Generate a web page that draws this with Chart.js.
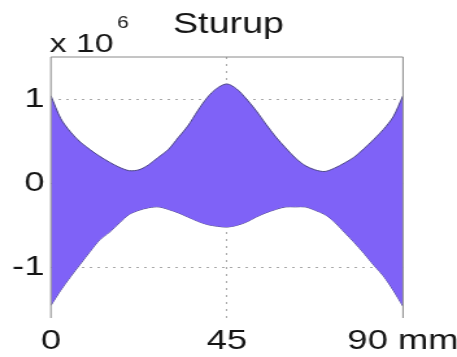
<!DOCTYPE html>
<html>
<head>
<meta charset="utf-8">
<script src="https://cdn.jsdelivr.net/npm/chart.js@4.4.1/dist/chart.umd.min.js"></script>
<style>
  html, body { margin: 0; padding: 0; background: #fff; overflow: hidden; }
  /* the figure is drawn narrow and widened horizontally, like the stretched plot export */
  #wrap { width: 352px; height: 357px; transform: scaleX(1.2983); transform-origin: 0 0; }
  canvas { display: block; }
</style>
</head>
<body>
<div id="wrap"><canvas id="c" width="352" height="357"></canvas></div>
<script>
// position along the span (mm)
const positionsMm = [0, 2.5, 5, 7.5, 10, 12.5, 15, 17.5, 20, 22.5, 25, 27.5, 30, 32.5, 35, 37.5, 40, 42.5,
  45, 47.5, 50, 52.5, 55, 57.5, 60, 62.5, 65, 67.5, 70, 72.5, 75, 77.5, 80, 82.5, 85, 87.5, 90];

// upper and lower envelope of the stirrup force (x 10^6)
const upperEnvelope = [1.04, 0.77, 0.61, 0.49, 0.40, 0.32, 0.25, 0.19, 0.15, 0.16, 0.22, 0.31, 0.40, 0.54, 0.68, 0.86, 1.02, 1.13,
  1.18, 1.12, 1.00, 0.86, 0.70, 0.55, 0.42, 0.30, 0.21, 0.16, 0.14, 0.18, 0.24, 0.31, 0.41, 0.52, 0.64, 0.79, 1.04];
const lowerEnvelope = [-1.45, -1.27, -1.11, -0.96, -0.81, -0.67, -0.58, -0.47, -0.37, -0.32, -0.29, -0.28, -0.31, -0.35, -0.40, -0.45, -0.49, -0.51,
  -0.52, -0.50, -0.46, -0.40, -0.35, -0.31, -0.28, -0.28, -0.28, -0.32, -0.37, -0.46, -0.58, -0.70, -0.83, -0.97, -1.10, -1.27, -1.46];

const xTickValues = [0, 45, 90];
const xTickLabels = ['0', '45', '90 mm'];
const yTickValues = [-1, 0, 1];
const titleText = 'Sturup';
const scaleFactorBase = 'x 10';
const scaleFactorExponent = '6';

const FONT = '"Liberation Sans", Arial, Helvetica, sans-serif';
const TEXT = '#151515';
const FILL = '#7f62f7';
const EDGE = '#4b4585';
const GRID = '#a9a9a9';

const toPoints = vals => positionsMm.map((x, i) => ({ x: x, y: vals[i] }));

// axes box (left, right, top) and the exponent label above the y axis
const framePlugin = {
  id: 'frame',
  afterDatasetsDraw(chart) {
    const { ctx, chartArea: a } = chart;
    ctx.save();
    ctx.lineWidth = 1;
    ctx.strokeStyle = '#8a8a8a';
    ctx.beginPath();
    ctx.moveTo(a.left, a.bottom);
    ctx.lineTo(a.left, a.top);
    ctx.lineTo(a.right, a.top);
    ctx.lineTo(a.right, a.bottom);
    ctx.stroke();
    ctx.restore();
  },
  afterDraw(chart) {
    const { ctx, chartArea: a } = chart;
    ctx.save();
    ctx.fillStyle = TEXT;
    ctx.textAlign = 'left';
    ctx.textBaseline = 'alphabetic';
    ctx.font = '26px ' + FONT;
    const x0 = a.left - 1;
    ctx.fillText(scaleFactorBase, x0, a.top - 5);
    const w = ctx.measureText(scaleFactorBase).width;
    ctx.font = '16px ' + FONT;
    ctx.fillText(scaleFactorExponent, x0 + w + 3, a.top - 29);
    ctx.restore();
  }
};

new Chart(document.getElementById('c'), {
  type: 'line',
  data: {
    datasets: [
      {
        label: 'upper',
        data: toPoints(upperEnvelope),
        fill: 1,
        backgroundColor: FILL,
        borderColor: EDGE,
        borderWidth: 1,
        pointRadius: 0,
        tension: 0.3
      },
      {
        label: 'lower',
        data: toPoints(lowerEnvelope),
        fill: false,
        borderColor: EDGE,
        borderWidth: 1,
        pointRadius: 0,
        tension: 0.3
      }
    ]
  },
  options: {
    responsive: false,
    animation: false,
    devicePixelRatio: 1,
    layout: { padding: 0 },
    plugins: {
      legend: { display: false },
      tooltip: { enabled: false },
      title: {
        display: true,
        text: titleText,
        color: TEXT,
        font: { family: FONT, size: 29, weight: 'normal' },
        padding: { top: 8, bottom: 14.2 }
      }
    },
    scales: {
      x: {
        type: 'linear',
        min: 0,
        max: 90,
        afterBuildTicks: s => { s.ticks = xTickValues.map(v => ({ value: v })); },
        afterFit: s => { s.height = 39; s.paddingRight = 41.6; s.paddingLeft = 0; },
        ticks: {
          callback: (v, i) => xTickLabels[i],
          color: TEXT,
          font: { family: FONT, size: 28 },
          padding: 6,
          maxRotation: 0,
          autoSkip: false
        },
        grid: {
          drawTicks: false,
          lineWidth: 1,
          color: c => (c.tick && c.tick.value > 0 && c.tick.value < 90) ? GRID : 'rgba(0,0,0,0)'
        },
        border: { display: false, dash: [2, 5] }
      },
      y: {
        type: 'linear',
        min: -1.6,
        max: 1.5,
        afterBuildTicks: s => { s.ticks = yTickValues.map(v => ({ value: v })); },
        afterFit: s => { s.width = 39.2; },
        ticks: {
          callback: v => String(v),
          color: TEXT,
          font: { family: FONT, size: 28 },
          padding: 5
        },
        grid: {
          drawTicks: false,
          lineWidth: 1,
          color: GRID
        },
        border: { display: false, dash: [2, 4] }
      }
    }
  },
  plugins: [framePlugin]
});
</script>
</body>
</html>
